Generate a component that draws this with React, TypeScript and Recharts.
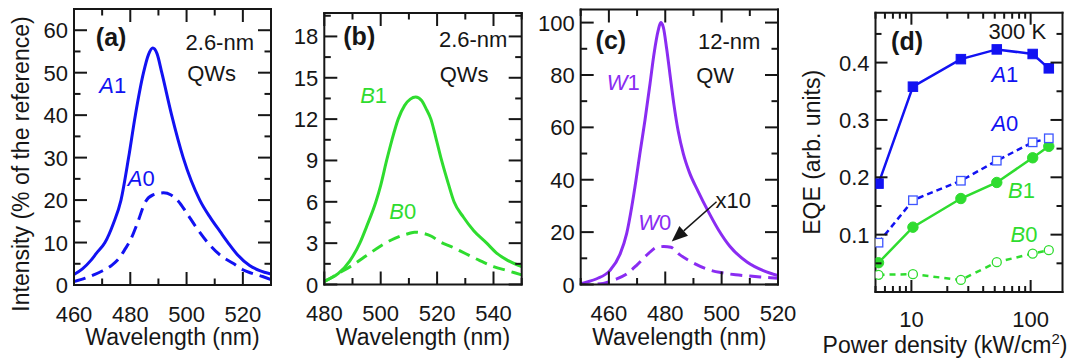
import React from 'react';
import { LineChart, Line, XAxis, YAxis, ReferenceDot, ReferenceLine } from 'recharts';

const FONT = '"Liberation Sans", Arial, Helvetica, sans-serif';
const INK = '#161616';
const BLUE = '#1212f2';
const BLUE_OPEN = '#3d55ff';
const GREEN = '#2fdc2f';
const PURPLE = '#8a2cf2';

// ---------------- Panel (a) ----------------
const aA1Wavelength = [460, 463, 466, 468, 471, 474, 476.7, 479.4, 481.8, 484.7, 486.5, 488, 489.5, 491.2, 494.7, 498.8, 504.7, 508.5, 512, 514.7, 518, 522.4, 526, 530];
const aA1Intensity = [2.5, 3.8, 5.8, 7.5, 10, 14.5, 20, 30, 40, 50, 54.3, 55.8, 54.5, 50, 40, 30, 20, 15.8, 12.5, 10, 7.2, 4.6, 3.4, 2.6];
const aA0Wavelength = [460, 464, 467, 470, 473.5, 476, 478.2, 480, 482.5, 485.3, 488, 491.8, 494.5, 497, 500, 503, 507.5, 512, 516.5, 520, 523, 527, 530];
const aA0Intensity = [0.8, 1.6, 2.4, 3.3, 4.7, 6.3, 8.5, 10.5, 14.5, 19.5, 21.2, 21.7, 21.2, 19.8, 17, 14, 10, 7, 5.1, 3.6, 2.8, 2, 1.3];
const aXTicks = [460, 470, 480, 490, 500, 510, 520, 530];
const aXLabels = [460, 480, 500, 520];
const aYTicks = [0, 5, 10, 15, 20, 25, 30, 35, 40, 45, 50, 55, 60];
const aYLabels = [0, 10, 20, 30, 40, 50, 60];

// ---------------- Panel (b) ----------------
const bB1Wavelength = [480, 485, 489, 492.6, 495, 498.3, 500, 502.1, 504, 506.2, 508.5, 510.5, 512.4, 514.5, 516, 517.8, 519.5, 521.6, 524, 526, 529.3, 533, 537.6, 541, 545, 550];
const bB1Intensity = [0.25, 0.8, 1.7, 3, 4.2, 6, 7.2, 9, 10.5, 12, 13, 13.45, 13.6, 13.35, 12.8, 12, 10.7, 9, 7.3, 6, 4.9, 3.9, 3, 2.3, 1.75, 1.3];
const bB0Wavelength = [480, 485, 490, 495, 500, 505, 510, 512, 515, 518, 521, 525, 530, 535, 540, 545, 550];
const bB0Intensity = [0.2, 0.8, 1.4, 2.1, 2.8, 3.35, 3.7, 3.8, 3.72, 3.5, 3.1, 2.75, 2.25, 1.75, 1.3, 1.0, 0.7];
const bXTicks = [480, 490, 500, 510, 520, 530, 540, 550];
const bXLabels = [480, 500, 520, 540];
const bYTicks = [0, 1.5, 3, 4.5, 6, 7.5, 9, 10.5, 12, 13.5, 15, 16.5, 18, 19.5];
const bYLabels = [0, 3, 6, 9, 12, 15, 18];

// ---------------- Panel (c) ----------------
const cW1Wavelength = [450, 452, 455.7, 460.4, 464, 466.3, 468.1, 469.6, 471, 472.8, 474.6, 476, 477.5, 478.4, 479.3, 480.5, 481.7, 483.1, 484.6, 486.4, 488.5, 491.7, 495.2, 498.8, 502.9, 509, 515, 520];
const cW1Intensity = [0.3, 0.9, 2.2, 5.4, 11.7, 19.4, 29.6, 39.7, 50, 62.7, 76.7, 88, 97, 100, 98.3, 90, 80, 68.5, 58.5, 50, 43, 35.5, 28, 21, 14.6, 8.6, 5.2, 3.4];
const cW0Wavelength = [456, 458, 462, 466, 470, 474, 477, 479.5, 482, 485, 490, 495, 500, 505, 510, 515, 520];
const cW0Intensity = [0.2, 0.4, 1.8, 3.8, 7.5, 11.8, 14.2, 14.5, 14.2, 11.5, 8.2, 5.8, 4.5, 3.7, 3.2, 2.8, 2.4];
const cXTicks = [450, 460, 470, 480, 490, 500, 510, 520];
const cXLabels = [460, 480, 500, 520];
const cYTicks = [0, 10, 20, 30, 40, 50, 60, 70, 80, 90, 100];
const cYLabels = [0, 20, 40, 60, 80, 100];

// ---------------- Panel (d) ----------------
const dPower = [5.3, 10.3, 26, 52, 104, 142];
const dA1 = [0.189, 0.358, 0.406, 0.423, 0.415, 0.39];
const dA0 = [0.086, 0.16, 0.194, 0.229, 0.261, 0.268];
const dB1 = [0.051, 0.113, 0.163, 0.191, 0.234, 0.254];
const dB0 = [0.030, 0.031, 0.021, 0.052, 0.067, 0.073];
const dXTicks = [5, 6, 7, 8, 9, 10, 20, 30, 40, 50, 60, 70, 80, 90, 100];
const dXLabels = [10, 100];
const dYTicks = [0.05, 0.1, 0.15, 0.2, 0.25, 0.3, 0.35, 0.4, 0.45];
const dYLabels = [0.1, 0.2, 0.3, 0.4];

const pts = (xs: number[], ys: number[]) => xs.map((x, i) => ({ x, y: ys[i] }));
const isIn = (v: number, arr: number[]) => arr.some((m) => Math.abs(m - v) < 1e-6);

type Side = 'left' | 'right' | 'top' | 'bottom';

function makeTick(side: Side, majors: number[], showLabel: boolean, fmt: (v: number) => string, majorLen: number, minorLen: number, labelDrop = 36.5) {
  return function TickMark(props: any) {
    const { x, y, payload } = props;
    const v = payload.value;
    const major = isIn(v, majors);
    const len = major ? majorLen : minorLen;
    let x2 = x;
    let y2 = y;
    if (side === 'left') x2 = x + len;
    else if (side === 'right') x2 = x - len;
    else if (side === 'top') y2 = y + len;
    else y2 = y - len;
    let label: any = null;
    if (showLabel && major) {
      if (side === 'left') {
        label = (
          <text x={x - 6} y={y + 8} textAnchor="end" fill={INK} fontSize={22} fontFamily={FONT}>
            {fmt(v)}
          </text>
        );
      } else if (side === 'bottom') {
        label = (
          <text x={x} y={y + labelDrop} textAnchor="middle" fill={INK} fontSize={22} fontFamily={FONT}>
            {fmt(v)}
          </text>
        );
      }
    }
    return (
      <g>
        <line x1={x} y1={y} x2={x2} y2={y2} stroke={INK} strokeWidth={2} />
        {label}
      </g>
    );
  };
}

function AxisTitle(props: any) {
  const vb = props.viewBox || { x: props.x, y: props.y, width: props.width || 0, height: props.height || 0 };
  if (props.vertical) {
    const x = vb.x + vb.width + props.ox;
    const y = vb.y + vb.height / 2 + props.oy;
    return (
      <text x={x} y={y} transform={`rotate(-90 ${x} ${y})`} textAnchor="middle" fill={INK} fontSize={23} fontFamily={FONT}>
        {props.parts}
      </text>
    );
  }
  const x = vb.x + vb.width / 2 + props.ox;
  const y = vb.y + props.oy;
  return (
    <text x={x} y={y} textAnchor="middle" fill={INK} fontSize={23} fontFamily={FONT}>
      {props.parts}
    </text>
  );
}

function Ann(props: any) {
  const vb = props.viewBox || { x: props.x, y: props.y, width: 0, height: 0 };
  const cx = vb.x + (vb.width || 0) / 2;
  const cy = vb.y + (vb.height || 0) / 2;
  return (
    <text x={cx} y={cy} textAnchor="middle" fill={props.tcolor} fontSize={props.tsize} fontWeight={props.tbold ? 700 : 400} fontFamily={FONT}>
      {props.parts}
    </text>
  );
}

function note(key: string, x: number, y: number, parts: any, color: string, size = 22, bold = false) {
  return (
    <ReferenceDot
      key={key}
      x={x}
      y={y}
      r={0}
      fill="none"
      stroke="none"
      ifOverflow="visible"
      label={<Ann parts={parts} tcolor={color} tsize={size} tbold={bold} />}
    />
  );
}

const it = (letter: string, digit: string) => [
  <tspan key="l" fontStyle="italic">{letter}</tspan>,
  <tspan key="d">{digit}</tspan>,
];

function ArrowShape(props: any) {
  const { x1, y1, x2, y2 } = props;
  const dx = x2 - x1;
  const dy = y2 - y1;
  const L = Math.hypot(dx, dy) || 1;
  const ux = dx / L;
  const uy = dy / L;
  const hl = 16;
  const hw = 6.5;
  const bx = x2 - ux * hl;
  const by = y2 - uy * hl;
  const poly = `${x2},${y2} ${bx - uy * hw},${by + ux * hw} ${bx + uy * hw},${by - ux * hw}`;
  return (
    <g>
      <line x1={x1} y1={y1} x2={bx} y2={by} stroke={INK} strokeWidth={1.5} />
      <polygon points={poly} fill={INK} />
    </g>
  );
}

const squareDot = (fill: string, stroke: string, size: number, sw: number) => (p: any) => {
  if (p.cx == null || p.cy == null) return <g key={p.index} />;
  return <rect key={p.index} x={p.cx - size / 2} y={p.cy - size / 2} width={size} height={size} fill={fill} stroke={stroke} strokeWidth={sw} />;
};
const circleDot = (fill: string, stroke: string, r: number, sw: number) => (p: any) => {
  if (p.cx == null || p.cy == null) return <g key={p.index} />;
  return <circle key={p.index} cx={p.cx} cy={p.cy} r={r} fill={fill} stroke={stroke} strokeWidth={sw} />;
};

const axisLine = { stroke: INK, strokeWidth: 2, strokeLinecap: 'square' as const };

function axes(opts: {
  xDomain: number[];
  yDomain: number[];
  xTicks: number[];
  xMajor: number[];
  yTicks: number[];
  yMajor: number[];
  xScale?: any;
  yFmt: (v: number) => string;
  xTitle: any;
  yTitle?: any;
  majorLen: number;
  minorLen: number;
  labelDrop?: number;
}) {
  const xs = opts.xScale || 'linear';
  const fx = (v: number) => String(v);
  return [
    <XAxis
      key="xb"
      xAxisId={0}
      dataKey="x"
      type="number"
      scale={xs}
      domain={opts.xDomain}
      allowDataOverflow
      ticks={opts.xTicks}
      interval={0}
      height={1}
      tickSize={0}
      tickMargin={0}
      tickLine={false}
      axisLine={axisLine}
      tick={makeTick('bottom', opts.xMajor, true, fx, opts.majorLen, opts.minorLen, opts.labelDrop)}
      label={opts.xTitle}
    />,
    <XAxis
      key="xt"
      xAxisId="top"
      orientation="top"
      dataKey="x"
      type="number"
      scale={xs}
      domain={opts.xDomain}
      allowDataOverflow
      ticks={opts.xTicks}
      interval={0}
      height={1}
      tickSize={0}
      tickMargin={0}
      tickLine={false}
      axisLine={axisLine}
      tick={makeTick('top', opts.xMajor, false, fx, opts.majorLen, opts.minorLen)}
    />,
    <YAxis
      key="yl"
      yAxisId={0}
      type="number"
      domain={opts.yDomain}
      allowDataOverflow
      ticks={opts.yTicks}
      interval={0}
      width={1}
      tickSize={0}
      tickMargin={0}
      tickLine={false}
      axisLine={axisLine}
      tick={makeTick('left', opts.yMajor, true, opts.yFmt, opts.majorLen, opts.minorLen)}
      label={opts.yTitle}
    />,
    <YAxis
      key="yr"
      yAxisId="right"
      orientation="right"
      type="number"
      domain={opts.yDomain}
      allowDataOverflow
      ticks={opts.yTicks}
      interval={0}
      width={1}
      tickSize={0}
      tickMargin={0}
      tickLine={false}
      axisLine={axisLine}
      tick={makeTick('right', opts.yMajor, false, opts.yFmt, opts.majorLen, opts.minorLen)}
    />,
  ];
}

const pos = (left: number, width: number): React.CSSProperties => ({ position: 'absolute', left, top: 0, width, height: 360 });

// margins below are the plot-box offsets minus the 1px that each axis occupies
export default function App() {
  return (
    <div style={{ position: 'absolute', left: 0, top: 0, width: 1069, height: 360, background: '#ffffff', overflow: 'hidden', fontFamily: FONT }}>
      {/* Panel (a) */}
      <div style={pos(0, 300)}>
        <LineChart width={300} height={360} margin={{ left: 73, right: 28, top: 8, bottom: 74 }}>
          {axes({
            xDomain: [460, 530],
            yDomain: [0, 65],
            xTicks: aXTicks,
            xMajor: aXLabels,
            yTicks: aYTicks,
            yMajor: aYLabels,
            yFmt: (v) => String(v),
            xTitle: <AxisTitle parts="Wavelength (nm)" ox={0} oy={60} />,
            yTitle: <AxisTitle vertical parts="Intensity (% of the reference)" ox={-45.5} oy={17} />,
            majorLen: 13,
            minorLen: 6.5,
          })}
          <Line data={pts(aA0Wavelength, aA0Intensity)} dataKey="y" xAxisId={0} yAxisId={0} type="monotone" stroke={BLUE} strokeWidth={3} strokeDasharray="12 7" dot={false} isAnimationActive={false} />
          <Line data={pts(aA1Wavelength, aA1Intensity)} dataKey="y" xAxisId={0} yAxisId={0} type="monotone" stroke={BLUE} strokeWidth={3} dot={false} isAnimationActive={false} />
          {note('a-l', 473.2, 56.2, '(a)', INK, 25, true)}
          {note('a-t1', 511.8, 55.3, '2.6-nm', INK)}
          {note('a-t2', 508.9, 48, 'QWs', INK)}
          {note('a-A1', 473.8, 45.2, it('A', '1'), BLUE)}
          {note('a-A0', 483.9, 23.3, it('A', '0'), BLUE)}
        </LineChart>
      </div>

      {/* Panel (b) */}
      <div style={pos(280, 270)}>
        <LineChart width={270} height={360} margin={{ left: 43.3, right: 27.3, top: 12, bottom: 74.5 }}>
          {axes({
            xDomain: [480, 550],
            yDomain: [0, 19.7],
            xTicks: bXTicks,
            xMajor: bXLabels,
            yTicks: bYTicks,
            yMajor: bYLabels,
            yFmt: (v) => String(v),
            xTitle: <AxisTitle parts="Wavelength (nm)" ox={0} oy={60.5} />,
            majorLen: 13,
            minorLen: 6.5,
          })}
          <Line data={pts(bB0Wavelength, bB0Intensity)} dataKey="y" xAxisId={0} yAxisId={0} type="monotone" stroke={GREEN} strokeWidth={3} strokeDasharray="12 7" dot={false} isAnimationActive={false} />
          <Line data={pts(bB1Wavelength, bB1Intensity)} dataKey="y" xAxisId={0} yAxisId={0} type="monotone" stroke={GREEN} strokeWidth={3} dot={false} isAnimationActive={false} />
          {note('b-l', 492.4, 17.4, '(b)', INK, 25, true)}
          {note('b-t1', 532.8, 17.2, '2.6-nm', INK)}
          {note('b-t2', 529.6, 14.7, 'QWs', INK)}
          {note('b-B1', 497.5, 13.2, it('B', '1'), GREEN)}
          {note('b-B0', 507.8, 4.73, it('B', '0'), GREEN)}
        </LineChart>
      </div>

      {/* Panel (c) */}
      <div style={pos(525, 280)}>
        <LineChart width={280} height={360} margin={{ left: 54.7, right: 26, top: 8.5, bottom: 74.5 }}>
          {axes({
            xDomain: [450, 520],
            yDomain: [0, 105],
            xTicks: cXTicks,
            xMajor: cXLabels,
            yTicks: cYTicks,
            yMajor: cYLabels,
            yFmt: (v) => String(v),
            xTitle: <AxisTitle parts="Wavelength (nm)" ox={0} oy={60.5} />,
            majorLen: 13,
            minorLen: 6.5,
          })}
          <Line data={pts(cW0Wavelength, cW0Intensity)} dataKey="y" xAxisId={0} yAxisId={0} type="monotone" stroke={PURPLE} strokeWidth={3} strokeDasharray="12 7" dot={false} isAnimationActive={false} />
          <Line data={pts(cW1Wavelength, cW1Intensity)} dataKey="y" xAxisId={0} yAxisId={0} type="monotone" stroke={PURPLE} strokeWidth={3} dot={false} isAnimationActive={false} />
          <ReferenceLine
            xAxisId={0}
            yAxisId={0}
            segment={[{ x: 498.2, y: 31.6 }, { x: 482.3, y: 16.4 }]}
            ifOverflow="visible"
            shape={ArrowShape}
          />
          {note('c-l', 460.7, 89.9, '(c)', INK, 25, true)}
          {note('c-t1', 502.7, 89.9, '12-nm', INK)}
          {note('c-t2', 497.7, 76.9, 'QW', INK)}
          {note('c-W1', 465.1, 74.1, it('W', '1'), PURPLE)}
          {note('c-W0', 476.3, 20.8, it('W', '0'), PURPLE)}
          {note('c-x10', 504.1, 29.1, 'x10', INK)}
        </LineChart>
      </div>

      {/* Panel (d) */}
      <div style={pos(785, 284)}>
        <LineChart width={284} height={360} margin={{ left: 89.5, right: 5.5, top: 11.7, bottom: 67 }}>
          {axes({
            xDomain: [5, 185],
            yDomain: [0, 0.487],
            xTicks: dXTicks,
            xMajor: dXLabels,
            yTicks: dYTicks,
            yMajor: dYLabels,
            xScale: 'log',
            yFmt: (v) => v.toFixed(1),
            xTitle: (
              <AxisTitle
                parts={[
                  <tspan key="a">Power density (kW/cm</tspan>,
                  <tspan key="b" fontSize={15} dy={-9}>2</tspan>,
                  <tspan key="c" dy={9}>)</tspan>,
                ]}
                ox={-24}
                oy={61}
              />
            ),
            yTitle: <AxisTitle vertical parts="EQE (arb. units)" ox={-55.5} oy={0} />,
            majorLen: 12,
            minorLen: 6,
            labelDrop: 35,
          })}
          <Line data={pts(dPower, dB0)} dataKey="y" xAxisId={0} yAxisId={0} type="linear" stroke={GREEN} strokeWidth={2.5} strokeDasharray="6 5" dot={circleDot('#ffffff', GREEN, 4.5, 1.3)} isAnimationActive={false} />
          <Line data={pts(dPower, dB1)} dataKey="y" xAxisId={0} yAxisId={0} type="linear" stroke={GREEN} strokeWidth={2.5} dot={circleDot(GREEN, GREEN, 5.2, 1)} isAnimationActive={false} />
          <Line data={pts(dPower, dA0)} dataKey="y" xAxisId={0} yAxisId={0} type="linear" stroke={BLUE} strokeWidth={2.5} strokeDasharray="6 4" dot={squareDot('#ffffff', BLUE_OPEN, 8.5, 1.3)} isAnimationActive={false} />
          <Line data={pts(dPower, dA1)} dataKey="y" xAxisId={0} yAxisId={0} type="linear" stroke={BLUE} strokeWidth={2.5} dot={squareDot(BLUE, BLUE, 9.5, 1)} isAnimationActive={false} />
          {note('d-l', 9.2, 0.422, '(d)', INK, 25, true)}
          {note('d-t', 77.4, 0.442, '300 K', INK)}
          {note('d-A1', 60.8, 0.367, it('A', '1'), BLUE)}
          {note('d-A0', 60.8, 0.281, it('A', '0'), BLUE)}
          {note('d-B1', 83.9, 0.164, it('B', '1'), GREEN)}
          {note('d-B0', 88, 0.088, it('B', '0'), GREEN)}
        </LineChart>
      </div>
    </div>
  );
}
